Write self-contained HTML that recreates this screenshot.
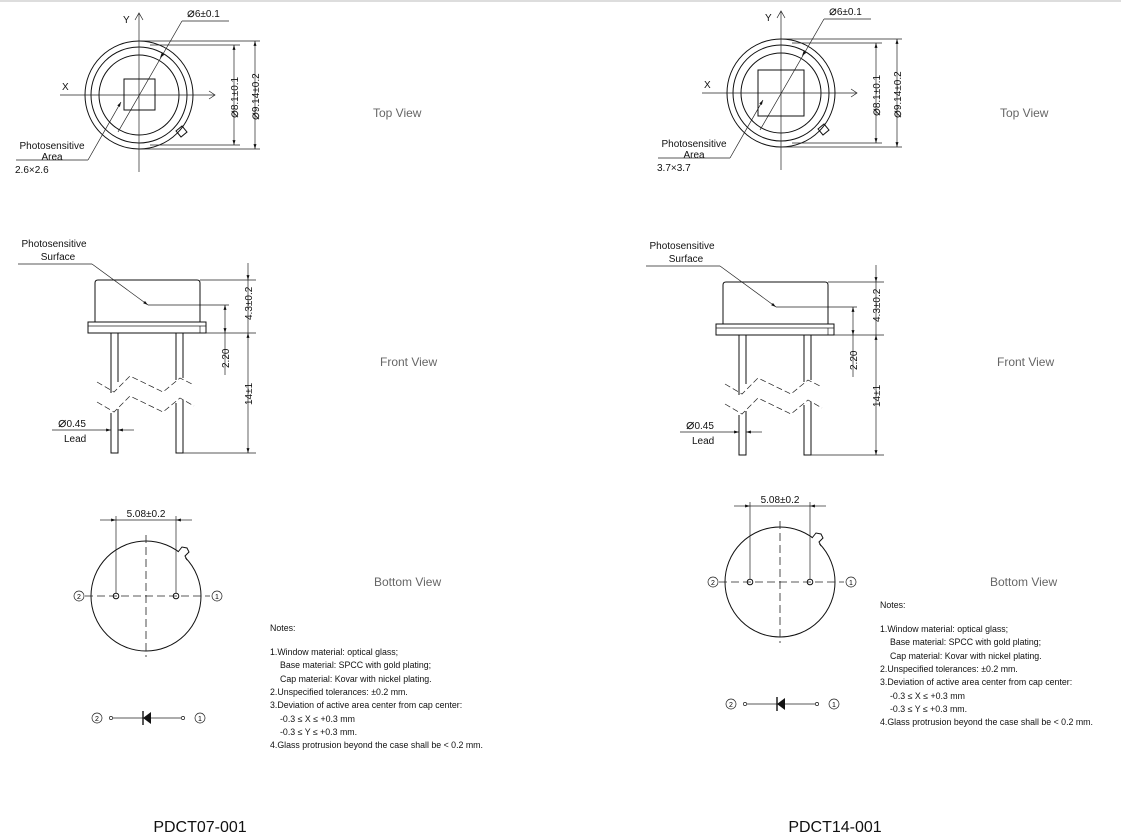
<!DOCTYPE html>
<html><head><meta charset="utf-8"><style>
html,body{margin:0;padding:0;background:#fff;}
svg{display:block;font-family:"Liberation Sans",Arial,sans-serif;}
.l{stroke:#111;stroke-width:1;fill:none}
.t{stroke:#222;stroke-width:0.7;fill:none}
.d{stroke:#222;stroke-width:0.8;fill:none;stroke-dasharray:8,4}
.s{font-size:10px;fill:#111}
.v{font-size:12px;fill:#666}
.n{font-size:8.8px;fill:#111}
</style></head><body>
<svg width="1121" height="835" viewBox="0 0 1121 835" xmlns="http://www.w3.org/2000/svg">
<defs>
<marker id="a" viewBox="0 0 10 10" refX="10" refY="5" markerWidth="7" markerHeight="7" orient="auto-start-reverse"><path d="M0,2 L10,5 L0,8 z" fill="#111"/></marker>
<g id="top">
<circle cx="139" cy="95" r="54" class="l"/>
<circle cx="139" cy="95" r="48" class="l"/>
<circle cx="139" cy="95" r="40" class="l"/>
<path d="M176,131 l6,-5 l5,6 l-6,5 z" class="l" fill="#fff"/>
<line x1="139" y1="13" x2="139" y2="172" class="t"/>
<path d="M135,20 L139,13 L143,20" class="t"/>
<text x="123" y="23" class="s">Y</text>
<line x1="60" y1="95" x2="215" y2="95" class="t"/>
<path d="M209,91 L215,95 L209,99" class="t"/>
<text x="62" y="90" class="s">X</text>
<line x1="118" y1="132" x2="182" y2="21" class="t"/>
<line x1="182" y1="21" x2="229" y2="21" class="t"/>
<text x="187" y="17" class="s"><tspan font-size="13">⌀</tspan>6±0.1</text>
<path d="M160,58 l2,-6 l2,3 z" fill="#111"/>
<line x1="139" y1="41" x2="260" y2="41" class="t"/>
<line x1="150" y1="45" x2="240" y2="45" class="t"/>
<line x1="150" y1="145" x2="240" y2="145" class="t"/>
<line x1="139" y1="149" x2="260" y2="149" class="t"/>
<line x1="234" y1="45" x2="234" y2="145" class="t" marker-start="url(#a)" marker-end="url(#a)"/>
<line x1="255" y1="41" x2="255" y2="149" class="t" marker-start="url(#a)" marker-end="url(#a)"/>
<text transform="translate(238,118) rotate(-90)" class="s"><tspan font-size="13">⌀</tspan>8.1±0.1</text>
<text transform="translate(259,120) rotate(-90)" class="s"><tspan font-size="13">⌀</tspan>9.14±0.2</text>
<line x1="16" y1="160" x2="88" y2="160" class="t"/>
<line x1="88" y1="160" x2="121" y2="102" class="t" marker-end="url(#a)"/>
<text x="52" y="149" class="s" text-anchor="middle">Photosensitive</text>
<text x="52" y="160" class="s" text-anchor="middle">Area</text>
</g>
<g id="front">
<text x="54" y="247" class="s" text-anchor="middle">Photosensitive</text>
<text x="58" y="260" class="s" text-anchor="middle">Surface</text>
<line x1="18" y1="264" x2="92" y2="264" class="t"/>
<line x1="92" y1="264" x2="148" y2="305" class="t" marker-end="url(#a)"/>
<line x1="148" y1="305" x2="229" y2="305" class="t"/>
<path d="M95,322 L95,283 Q95,280 98,280 L197,280 Q200,280 200,283 L200,322" class="l"/>
<rect x="88" y="322" width="118" height="11" class="l"/>
<line x1="88" y1="326" x2="206" y2="326" class="t"/>
<line x1="200" y1="326" x2="200" y2="333" class="t"/>
<path d="M111,333 V393 M118,333 V382 M176,333 V380 M183,333 V378 M111,413 V453 H118 V409 M176,403 V453 H183 V400" class="l"/>
<path d="M97,382 L114,392 L130,376 L163,392 L180,378 L194,385" class="t" stroke-dasharray="6,3"/>
<path d="M97,402 L114,412 L130,396 L163,412 L180,398 L194,406" class="t" stroke-dasharray="6,3"/>
<line x1="200" y1="280" x2="256" y2="280" class="t"/>
<line x1="206" y1="333" x2="256" y2="333" class="t"/>
<line x1="183" y1="453" x2="256" y2="453" class="t"/>
<line x1="248" y1="263" x2="248" y2="280" class="t" marker-end="url(#a)"/>
<line x1="248" y1="280" x2="248" y2="333" class="t"/>
<line x1="248" y1="333" x2="248" y2="453" class="t" marker-start="url(#a)" marker-end="url(#a)"/>
<line x1="225" y1="305" x2="225" y2="333" class="t" marker-start="url(#a)" marker-end="url(#a)"/>
<line x1="225" y1="333" x2="225" y2="375" class="t"/>
<text transform="translate(252,320) rotate(-90)" class="s">4.3±0.2</text>
<text transform="translate(229,368) rotate(-90)" class="s">2.20</text>
<text transform="translate(252,405) rotate(-90)" class="s">14±1</text>
<line x1="52" y1="430" x2="111" y2="430" class="t" marker-end="url(#a)"/>
<line x1="134" y1="430" x2="118" y2="430" class="t" marker-end="url(#a)"/>
<text x="58" y="427" class="s"><tspan font-size="14">⌀</tspan>0.45</text>
<text x="64" y="442" class="s">Lead</text>
</g>
<g id="bot">
<circle cx="146" cy="596" r="55" class="l"/>
<path d="M179,553 l4,-6 l5,2 l2,4 l-5,4 z" fill="#fff" stroke="#fff" stroke-width="2"/>
<path d="M178,552 l4,-5 l5,1 l2,4 l-4,4 l2,4" class="l"/>
<line x1="146" y1="535" x2="146" y2="657" class="d"/>
<line x1="85" y1="596" x2="210" y2="596" class="d"/>
<circle cx="116" cy="596" r="2.8" fill="#fff" class="l"/>
<circle cx="176" cy="596" r="2.8" fill="#fff" class="l"/>
<line x1="116" y1="593" x2="116" y2="516" class="t"/>
<line x1="176" y1="593" x2="176" y2="516" class="t"/>
<line x1="100" y1="520" x2="116" y2="520" class="t" marker-end="url(#a)"/>
<line x1="116" y1="520" x2="176" y2="520" class="t"/>
<line x1="192" y1="520" x2="176" y2="520" class="t" marker-end="url(#a)"/>
<text x="146" y="517" class="s" text-anchor="middle">5.08±0.2</text>
<circle cx="79" cy="596" r="5" class="t"/><text x="79" y="599" font-size="7" text-anchor="middle">2</text>
<circle cx="217" cy="596" r="5" class="t"/><text x="217" y="599" font-size="7" text-anchor="middle">1</text>
<circle cx="97" cy="718" r="5" class="t"/><text x="97" y="721" font-size="7" text-anchor="middle">2</text>
<circle cx="111" cy="718" r="1.6" class="t"/>
<line x1="113" y1="718" x2="181" y2="718" class="t"/>
<path d="M143,718 L151,712 L151,724 z" fill="#111"/>
<line x1="143" y1="711" x2="143" y2="725" stroke="#111" stroke-width="1.4"/>
<circle cx="183" cy="718" r="1.6" class="t"/>
<circle cx="200" cy="718" r="5" class="t"/><text x="200" y="721" font-size="7" text-anchor="middle">1</text>
</g>
<g id="notes">
<text x="270" y="631" class="n">Notes:</text>
<text x="270" y="655" class="n">1.Window material: optical glass;</text>
<text x="280" y="668" class="n">Base material: SPCC with gold plating;</text>
<text x="280" y="682" class="n">Cap material: Kovar with nickel plating.</text>
<text x="270" y="695" class="n">2.Unspecified tolerances: ±0.2 mm.</text>
<text x="270" y="708" class="n">3.Deviation of active area center from cap center:</text>
<text x="280" y="722" class="n">-0.3 ≤ X ≤ +0.3 mm</text>
<text x="280" y="735" class="n">-0.3 ≤ Y ≤ +0.3 mm.</text>
<text x="270" y="748" class="n">4.Glass protrusion beyond the case shall be &lt; 0.2 mm.</text>
</g>
</defs>

<line x1="0" y1="1" x2="1121" y2="1" stroke="#ddd" stroke-width="2"/>

<use href="#top"/>
<rect x="124" y="79" width="31" height="31" class="l"/>
<text x="15" y="173" class="s">2.6×2.6</text>
<use href="#front"/>
<use href="#bot"/>
<use href="#notes"/>

<g transform="translate(642,-2)">
<use href="#top"/>
<rect x="116" y="72" width="46" height="46" class="l"/>
<text x="15" y="173" class="s">3.7×3.7</text>
</g>
<use href="#front" transform="translate(628,2)"/>
<use href="#bot" transform="translate(634,-14)"/>
<use href="#notes" transform="translate(610,-23)"/>

<text x="373" y="117" class="v">Top View</text>
<text x="380" y="366" class="v">Front View</text>
<text x="374" y="586" class="v">Bottom View</text>
<text x="1000" y="117" class="v">Top View</text>
<text x="997" y="366" class="v">Front View</text>
<text x="990" y="586" class="v">Bottom View</text>

<text x="200" y="832" font-size="16" fill="#111" text-anchor="middle">PDCT07-001</text>
<text x="835" y="832" font-size="16" fill="#111" text-anchor="middle">PDCT14-001</text>
</svg>
</body></html>
